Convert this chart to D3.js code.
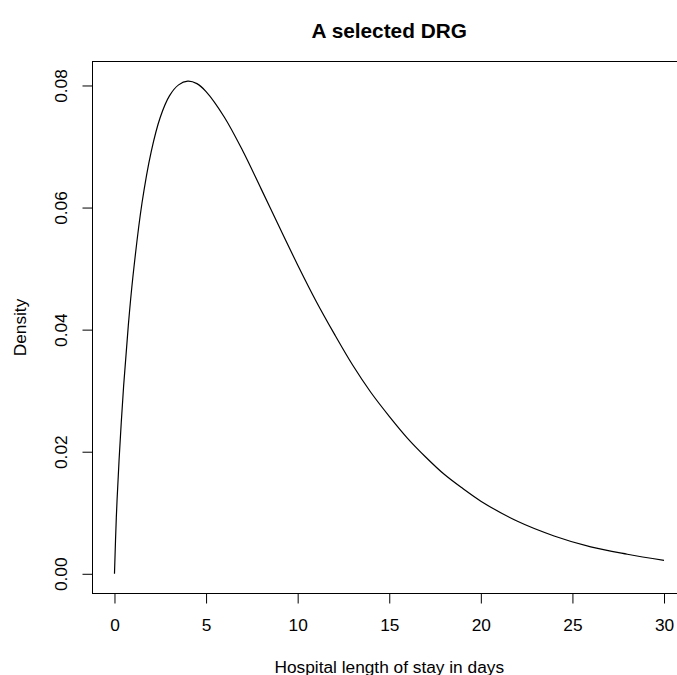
<!DOCTYPE html>
<html>
<head>
<meta charset="utf-8">
<script src="https://cdn.jsdelivr.net/npm/d3@7"></script>
<style>
  html, body { margin: 0; padding: 0; background: #fff; }
  svg { display: block; }
  text { font-family: "Liberation Sans", Arial, Helvetica, sans-serif; fill: #000; }
</style>
</head>
<body>
<svg id="chart" width="677" height="675"></svg>
<script>
// ---- Data ----
const days = [0, 0.1, 0.25, 0.5, 0.75, 1, 1.5, 2, 2.5, 3, 3.5, 4, 4.5, 5, 6, 7, 8, 9, 10,
              11, 12, 13, 14, 15, 16, 17, 18, 19, 20, 22, 24, 26, 28, 30];
const density = [0, 0.0092, 0.0186, 0.0308, 0.0405, 0.0485, 0.0607, 0.0691, 0.0748, 0.0783,
                 0.0801, 0.0807, 0.0803, 0.0790, 0.0748, 0.0693, 0.0631, 0.0568, 0.0506,
                 0.0447, 0.0393, 0.0342, 0.0297, 0.0258, 0.0222, 0.0191, 0.0163, 0.0140,
                 0.0119, 0.0086, 0.0062, 0.0044, 0.0032, 0.0022];
const xTicks = [0, 5, 10, 15, 20, 25, 30];
const yTicks = [0.00, 0.02, 0.04, 0.06, 0.08];
const yTickLabels = ["0.00", "0.02", "0.04", "0.06", "0.08"];
const titleText = "A selected DRG";
const xLabel = "Hospital length of stay in days";
const yLabel = "Density";

// ---- Layout ----
const plotLeft = 92.5, plotRight = 686, plotTop = 61.5, plotBottom = 593.5;
const axisFont = "17.3px", titleFont = "20.8px";

const svg = d3.select("#chart");

const xMin = d3.min(days), xMax = d3.max(days);
const yMin = 0, yMax = d3.max(density);
const xPad = (xMax - xMin) * 0.04, yPad = (yMax - yMin) * 0.04;

const x = d3.scaleLinear().domain([xMin - xPad, xMax + xPad]).range([plotLeft, plotRight]);
const y = d3.scaleLinear().domain([yMin - yPad, yMax + yPad]).range([plotBottom, plotTop]);

const pts = days.map((d, i) => [d, density[i]]);

// curve
const line = d3.line()
  .x(d => x(d[0]))
  .y(d => y(d[1]))
  .curve(d3.curveCatmullRom.alpha(0.5));

svg.append("path")
  .datum(pts)
  .attr("d", line)
  .attr("fill", "none")
  .attr("stroke", "#000")
  .attr("stroke-width", 1.2);

// box
svg.append("rect")
  .attr("x", plotLeft)
  .attr("y", plotTop)
  .attr("width", plotRight - plotLeft)
  .attr("height", plotBottom - plotTop)
  .attr("fill", "none")
  .attr("stroke", "#000")
  .attr("stroke-width", 1);

// x axis
const xAxis = d3.axisBottom(x).tickValues(xTicks).tickSize(10).tickSizeOuter(0)
  .tickFormat(d3.format("d"));
const gx = svg.append("g").attr("transform", `translate(0,${plotBottom})`).call(xAxis);
gx.select(".domain").remove();
gx.selectAll(".tick line").attr("stroke", "#000");
gx.selectAll(".tick text")
  .attr("font-size", axisFont).attr("fill", "#000")
  .attr("font-family", "Liberation Sans, Arial, sans-serif")
  .attr("y", 631 - plotBottom).attr("dy", null);

// y axis
const yAxis = d3.axisLeft(y).tickValues(yTicks).tickSize(10).tickSizeOuter(0)
  .tickFormat((d, i) => yTickLabels[i]);
const gy = svg.append("g").attr("transform", `translate(${plotLeft},0)`).call(yAxis);
gy.select(".domain").remove();
gy.selectAll(".tick line").attr("stroke", "#000");
gy.selectAll(".tick text")
  .attr("font-size", axisFont).attr("fill", "#000")
  .attr("font-family", "Liberation Sans, Arial, sans-serif")
  .attr("x", null).attr("dy", null)
  .attr("text-anchor", "middle")
  .attr("transform", `translate(${67.3 - plotLeft},0) rotate(-90)`);

// title
svg.append("text")
  .attr("x", (plotLeft + plotRight) / 2)
  .attr("y", 38)
  .attr("text-anchor", "middle")
  .attr("font-size", titleFont)
  .attr("font-weight", "bold")
  .text(titleText);

// x label
svg.append("text")
  .attr("x", (plotLeft + plotRight) / 2)
  .attr("y", 672.5)
  .attr("text-anchor", "middle")
  .attr("font-size", axisFont)
  .text(xLabel);

// y label
svg.append("text")
  .attr("transform", `translate(25.7,${(plotTop + plotBottom) / 2}) rotate(-90)`)
  .attr("text-anchor", "middle")
  .attr("font-size", axisFont)
  .text(yLabel);
</script>
</body>
</html>
